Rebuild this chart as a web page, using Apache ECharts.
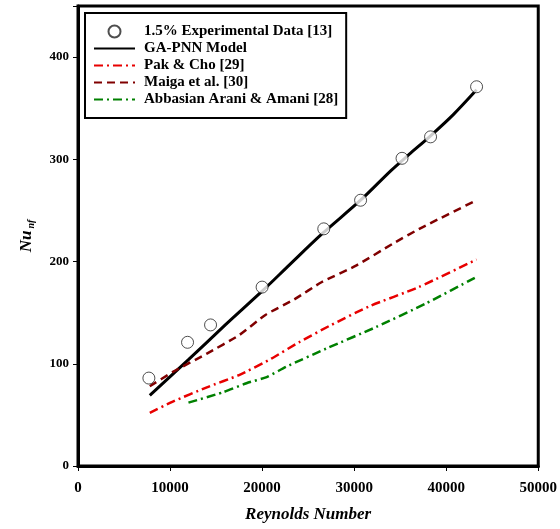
<!DOCTYPE html>
<html>
<head>
<meta charset="utf-8">
<script src="https://cdn.jsdelivr.net/npm/echarts@6/dist/echarts.min.js"></script>
<style>
  html, body { margin: 0; padding: 0; background: #fff; }
  #chart { width: 560px; height: 529px; }
</style>
</head>
<body>
<div id="chart"></div>
<script>
  // data
  var expRe = [7700, 11900, 14400, 20000, 26700, 30700, 35200, 38300, 43300]
  var expNu = [86, 121, 138, 175, 232, 260, 301, 322, 371]

  var modelRe = [7800, 12000, 16000, 20000, 23000, 26500, 30700, 34000, 36000, 38300, 40800, 43300]
  var modelNu = [69, 104, 138, 171, 197, 227, 260, 289, 305, 323, 344, 368]

  var pakRe = [7800, 10300, 14000, 17500, 21000, 24000, 27300, 31600, 37000, 43300]
  var pakNu = [52, 63, 77, 89, 105, 121, 137, 156, 175, 202]

  var maigaRe = [7800, 10300, 14000, 17500, 20400, 23500, 26500, 30200, 34300, 37300, 43300]
  var maigaNu = [78, 92, 110, 128, 148, 163, 180, 196, 218, 233, 260]

  var abbRe = [12000, 15700, 18300, 20500, 22600, 27000, 32400, 37800, 43300]
  var abbNu = [62, 72, 81, 87, 97, 115, 136, 159, 185]

  function pairs(xs, ys) {
      return xs.map(function (x, i) { return [x, ys[i]] })
  }

  var serif = 'Liberation Serif'
  var noMark = { opacity: 0 }
  var chart = echarts.init(document.getElementById('chart'))

  chart.setOption({
      animation: false,
      grid: {
          left: 78,
          right: 20,
          top: 6,
          bottom: 63,
          show: true,
          borderColor: '#000',
          borderWidth: 3
      },
      legend: {
          orient: 'vertical',
          left: 85,
          top: 13,
          padding: [11, 8, 11, 8],
          itemWidth: 41,
          itemHeight: 12,
          itemGap: 2,
          borderColor: '#000',
          borderWidth: 2,
          backgroundColor: '#fff',
          textStyle: { fontFamily: serif, fontWeight: 'bold', fontSize: 15, color: '#000', padding: [0, 0, 0, 4] },
          data: [
              { name: '1.5% Experimental Data [13]' },
              { name: 'GA-PNN Model', itemStyle: noMark },
              { name: 'Pak & Cho [29]', itemStyle: noMark },
              { name: 'Maiga et al. [30]', itemStyle: noMark },
              { name: 'Abbasian Arani & Amani [28]', itemStyle: noMark }
          ]
      },
      xAxis: {
          type: 'value',
          min: 0,
          max: 50000,
          interval: 10000,
          name: 'Reynolds Number',
          nameLocation: 'middle',
          nameGap: 40,
          nameTextStyle: { fontFamily: serif, fontWeight: 'bold', fontStyle: 'italic', fontSize: 17, color: '#000' },
          axisLine: { lineStyle: { color: '#000', width: 3 } },
          axisTick: { length: 5, lineStyle: { color: '#000', width: 1 } },
          axisLabel: {
              fontFamily: serif, fontWeight: 'bold', fontSize: 15, color: '#000', margin: 15,
              formatter: function (v) { return String(v) }
          },
          splitLine: { show: false }
      },
      yAxis: {
          type: 'value',
          min: 0,
          max: 450,
          interval: 100,
          name: '{a|Nu}{b|nf}',
          nameLocation: 'middle',
          nameGap: 42,
          nameRotate: 90,
          nameTextStyle: {
              rich: {
                  a: { fontFamily: serif, fontWeight: 'bold', fontStyle: 'italic', fontSize: 17, color: '#000' },
                  b: { fontFamily: serif, fontWeight: 'bold', fontStyle: 'italic', fontSize: 10, color: '#000', padding: [9, 0, 0, 2] }
              }
          },
          axisLine: { lineStyle: { color: '#000', width: 3 } },
          axisTick: { length: 5, lineStyle: { color: '#000', width: 1 } },
          axisLabel: {
              fontFamily: serif, fontWeight: 'bold', fontSize: 13, color: '#000', margin: 9,
              formatter: function (v) { return v > 400 ? '' : String(v) }
          },
          splitLine: { show: false }
      },
      series: [
          {
              name: '1.5% Experimental Data [13]',
              type: 'scatter',
              symbol: 'circle',
              symbolSize: 12,
              itemStyle: { color: '#fff', borderColor: '#222', borderWidth: 1 },
              data: pairs(expRe, expNu),
              z: 5
          },
          {
              name: 'GA-PNN Model',
              type: 'line',
              smooth: 0.3,
              symbol: 'none',
              lineStyle: { color: '#000', width: 3 },
              itemStyle: { color: '#000' },
              data: pairs(modelRe, modelNu)
          },
          {
              name: 'Pak & Cho [29]',
              type: 'line',
              smooth: 0.2,
              symbol: 'none',
              lineStyle: { color: '#e80000', width: 2.5, type: [9, 4, 2, 4] },
              itemStyle: { color: '#e80000' },
              data: pairs(pakRe, pakNu)
          },
          {
              name: 'Maiga et al. [30]',
              type: 'line',
              smooth: 0.2,
              symbol: 'none',
              lineStyle: { color: '#800000', width: 2.5, type: [8, 5] },
              itemStyle: { color: '#800000' },
              data: pairs(maigaRe, maigaNu)
          },
          {
              name: 'Abbasian Arani & Amani [28]',
              type: 'line',
              smooth: 0.2,
              symbol: 'none',
              lineStyle: { color: '#008000', width: 2.5, type: [9, 4, 2, 4] },
              itemStyle: { color: '#008000' },
              data: pairs(abbRe, abbNu)
          }
      ]
  })
</script>
</body>
</html>
